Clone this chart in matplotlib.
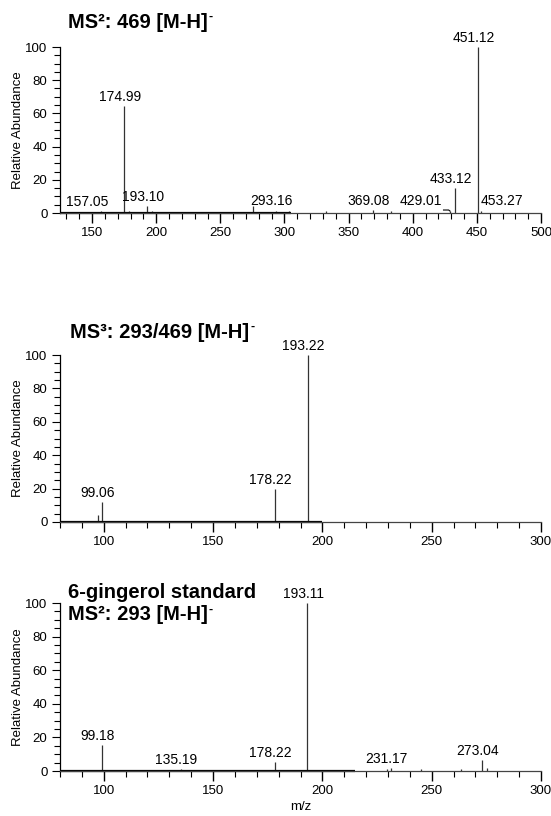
import matplotlib
matplotlib.use('Agg')
import matplotlib.pyplot as plt
from matplotlib.ticker import MultipleLocator

plt.rcParams['font.family'] = ['Liberation Sans', 'DejaVu Sans']

# panel 1: MS2 of 469
p1_mz = [157.05, 174.99, 176.5, 179.0, 193.10, 197.0, 275.5, 293.16, 303.5, 332.0,
         369.08, 383.0, 429.01, 433.12, 451.12, 453.27]
p1_int = [1.0, 64.5, 0.8, 1.2, 4.0, 1.0, 4.0, 1.5, 1.0, 1.0,
          2.0, 1.0, 1.5, 15.0, 100.0, 1.5]
p1_lab = ['157.05', '174.99', '193.10', '293.16', '369.08', '429.01', '433.12', '451.12', '453.27']

# panel 2: MS3 293/469
p2_mz = [97.3, 99.06, 178.22, 193.22]
p2_int = [4.0, 12.0, 20.0, 100.0]
p2_lab = ['99.06', '178.22', '193.22']

# panel 3: 6-gingerol standard
p3_mz = [99.18, 135.19, 178.22, 193.11, 229.5, 231.17, 245.0, 263.6, 273.04, 275.5]
p3_int = [15.5, 1.0, 5.5, 100.0, 1.2, 1.5, 1.0, 1.0, 6.5, 1.5]
p3_lab = ['99.18', '135.19', '178.22', '193.11', '231.17', '273.04']

W, H = 551, 816
fig = plt.figure(figsize=(W / 100, H / 100), dpi=100)
renderer = fig.canvas.get_renderer()


def make_ax(top_px, bot_px):
    return fig.add_axes([60 / W, 1 - bot_px / H, 481 / W, (bot_px - top_px) / H])


def draw_panel(ax, mz, inten, labels, xlim, thick_end, offsets):
    ax.set_xlim(*xlim)
    ax.set_ylim(0, 100)
    ax.vlines(mz, 0, inten, color='#333333', lw=0.9, clip_on=False)
    # noisy baseline region drawn as thicker line
    ax.plot([xlim[0], thick_end], [0, 0], color='black', lw=1.6, clip_on=False, solid_capstyle='butt')
    for m, h in zip(mz, inten):
        s = '%.2f' % m
        if s in labels:
            dx, ha = offsets.get(s, (-3, 'center'))
            ax.annotate(s, (m, h), xytext=(dx, 1.5), textcoords='offset points',
                        ha=ha, va='bottom', fontsize=10)
    for sp in ['top', 'right']:
        ax.spines[sp].set_visible(False)
    ax.spines['bottom'].set_color('#444444')
    ax.spines['bottom'].set_linewidth(0.9)
    ax.spines['left'].set_linewidth(0.9)
    ax.yaxis.set_major_locator(MultipleLocator(20))
    ax.yaxis.set_minor_locator(MultipleLocator(5))
    ax.xaxis.set_major_locator(MultipleLocator(50))
    ax.xaxis.set_minor_locator(MultipleLocator(10))
    ax.tick_params(axis='y', which='major', direction='out', length=6, width=0.8, labelsize=9.5, pad=3)
    ax.tick_params(axis='y', which='minor', direction='out', length=4, width=0.8)
    ax.tick_params(axis='x', which='major', direction='out', length=7, width=1.0, labelsize=9.5, pad=3)
    ax.tick_params(axis='x', which='minor', direction='out', length=4, width=0.8)
    ax.set_ylabel('Relative Abundance', fontsize=9.5, labelpad=1)


def title(x_px, y_px, s, charge=True):
    t = fig.text(x_px / W, 1 - y_px / H, s, fontsize=14.5, fontweight='bold', va='center')
    if charge:
        bb = t.get_window_extent(renderer)
        # short superscript hyphen for the negative charge
        fig.text((bb.x1 + 1) / W, (bb.y1 - 0.22 * bb.height) / H, '-', fontsize=9,
                 fontweight='bold', va='center', ha='left')


ax1 = make_ax(47, 213)
draw_panel(ax1, p1_mz, p1_int, p1_lab, (125, 500), 305,
           {'157.05': (-10, 'center'), '429.01': (-6, 'right'), '453.27': (0, 'left')})
# leader line for 429.01
ax1.plot([424, 428, 429], [1.8, 1.8, 1.2], color='black', lw=0.8)
title(68, 22, 'MS²: 469 [M-H]')

ax2 = make_ax(355, 522)
draw_panel(ax2, p2_mz, p2_int, p2_lab, (80, 300), 200, {})
title(70, 332, 'MS³: 293/469 [M-H]')

ax3 = make_ax(603, 771)
draw_panel(ax3, p3_mz, p3_int, p3_lab, (80, 300), 215, {})
title(68, 592, '6-gingerol standard', charge=False)
title(68, 615, 'MS²: 293 [M-H]')
ax3.set_xlabel('m/z', fontsize=9.5, labelpad=3)

fig.savefig('out.png', dpi=100)
